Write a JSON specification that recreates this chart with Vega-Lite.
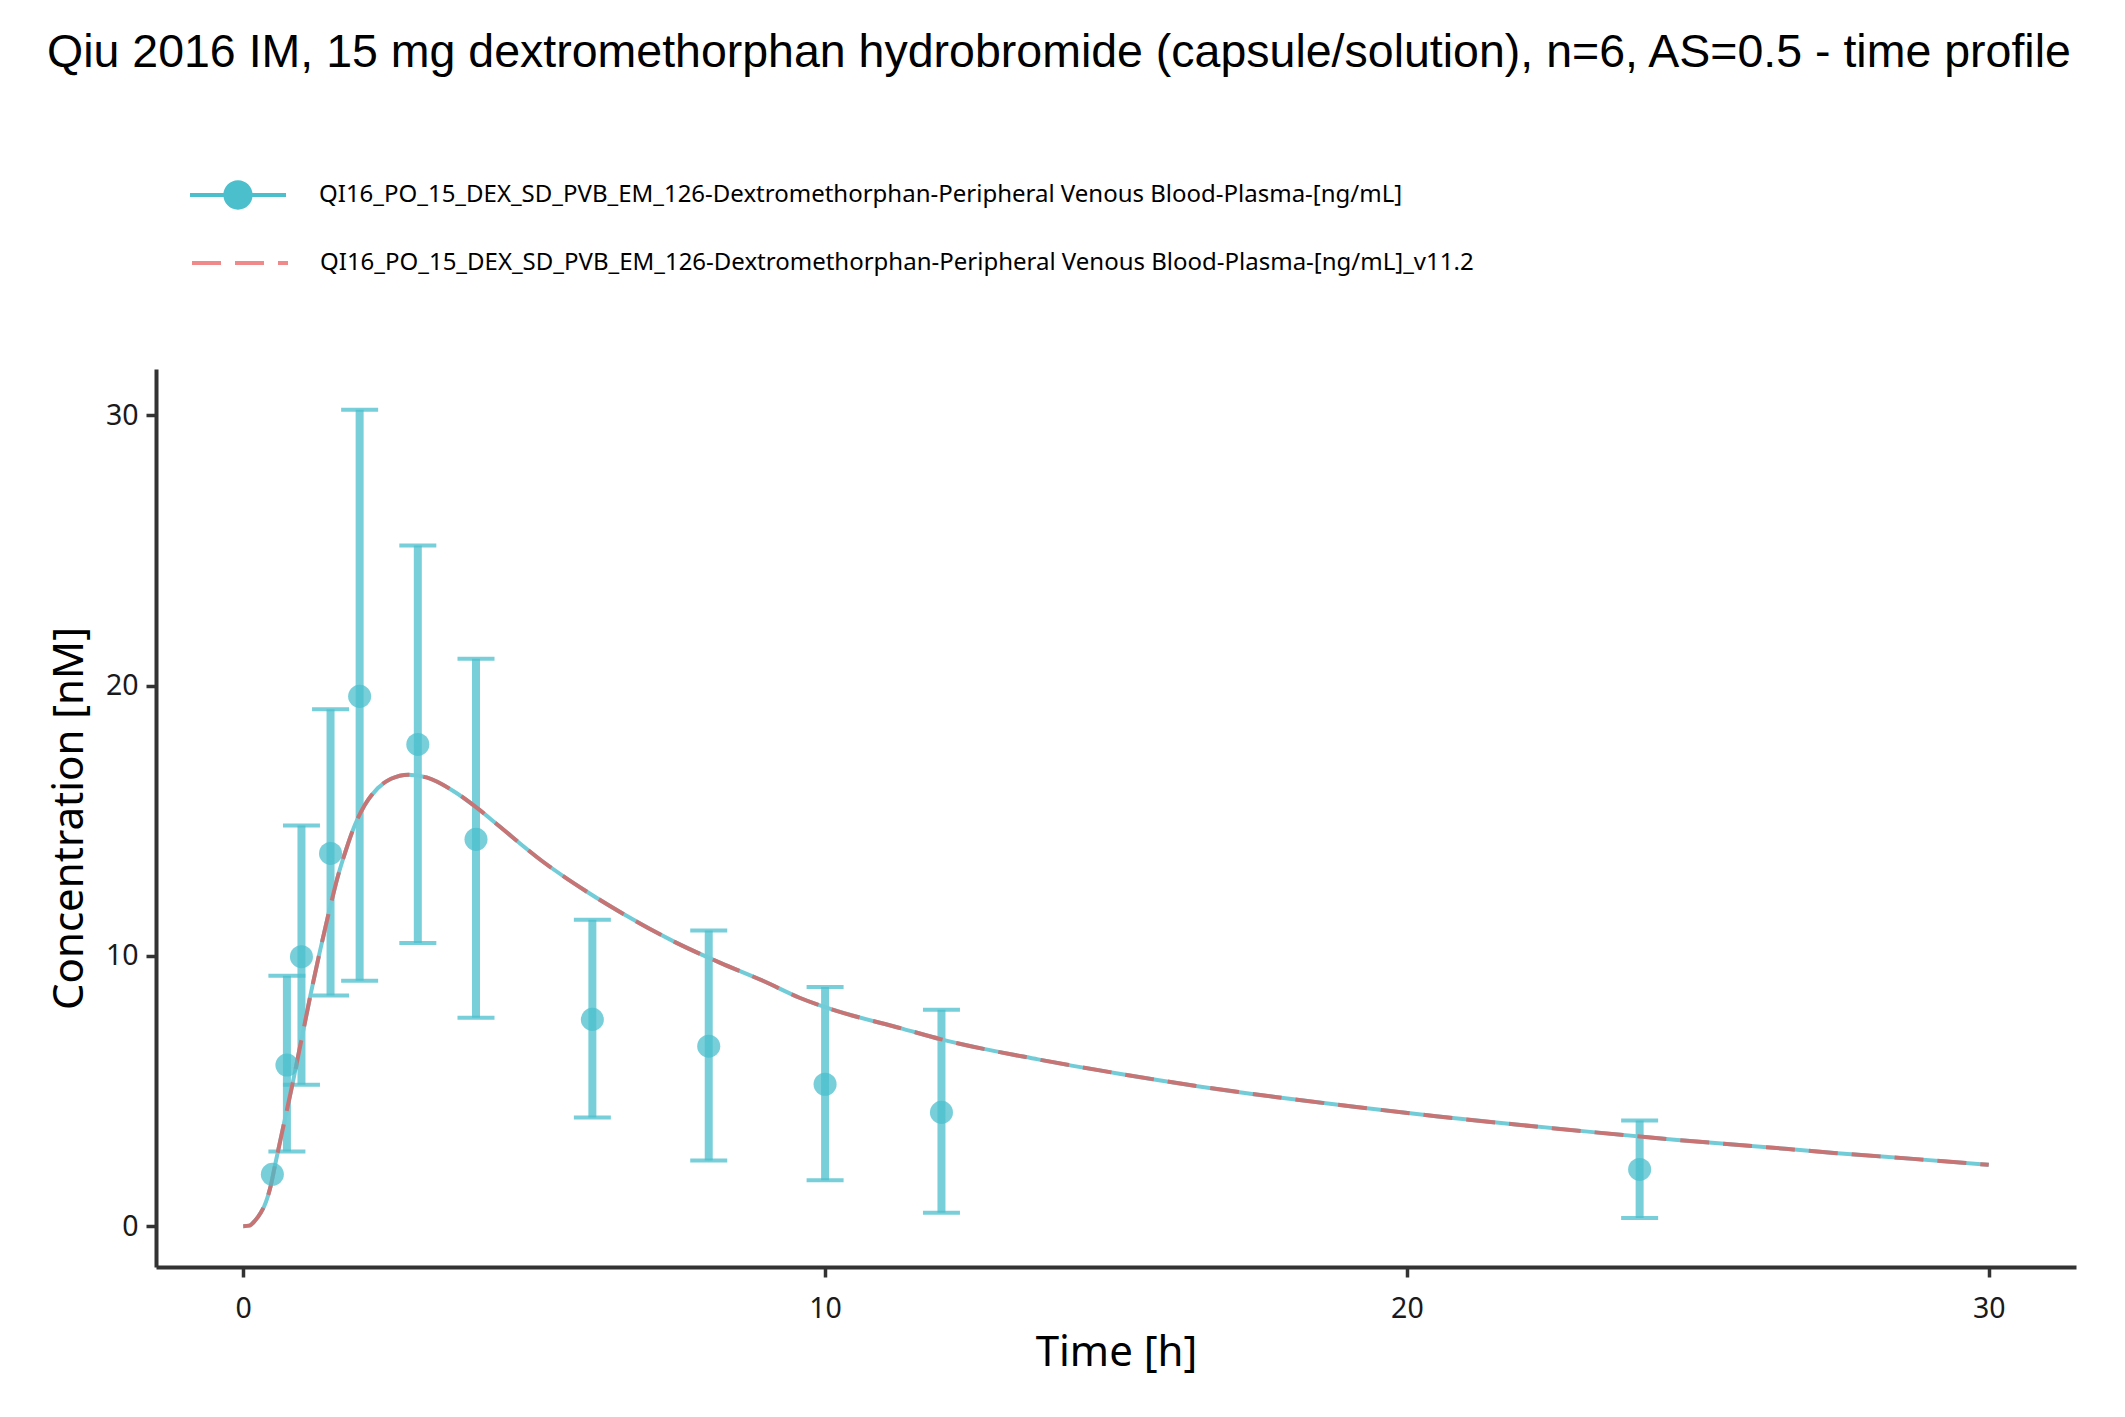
{
  "$schema": "https://vega.github.io/schema/vega-lite/v6.json",
  "autosize": "none",
  "width": 1920,
  "height": 898,
  "padding": {"left": 156, "top": 369, "right": 49, "bottom": 150},
  "background": "white",
  "title": {
    "text": "Qiu 2016 IM, 15 mg dextromethorphan hydrobromide (capsule/solution), n=6, AS=0.5 - time profile",
    "font": "Liberation Sans",
    "fontSize": 46.5,
    "fontWeight": "normal",
    "color": "black",
    "anchor": "start",
    "frame": "group",
    "dx": -109,
    "offset": 95
  },
  "datasets": {
    "obs": [
      {"t": 0.5, "conc": 1.92, "lo": null, "hi": null},
      {"t": 0.75, "conc": 5.96, "lo": 2.76, "hi": 9.26},
      {"t": 1, "conc": 9.97, "lo": 5.23, "hi": 14.82},
      {"t": 1.5, "conc": 13.79, "lo": 8.53, "hi": 19.12},
      {"t": 2, "conc": 19.6, "lo": 9.08, "hi": 30.2},
      {"t": 3, "conc": 17.82, "lo": 10.48, "hi": 25.18},
      {"t": 4, "conc": 14.31, "lo": 7.71, "hi": 20.99},
      {"t": 6, "conc": 7.65, "lo": 4.02, "hi": 11.34},
      {"t": 8, "conc": 6.66, "lo": 2.43, "hi": 10.94},
      {"t": 10, "conc": 5.25, "lo": 1.7, "hi": 8.85},
      {"t": 12, "conc": 4.21, "lo": 0.5, "hi": 8.01},
      {"t": 24, "conc": 2.1, "lo": 0.3, "hi": 3.91}
    ],
    "sim": [
      {"t": 0, "c": 0},
      {"t": 0.1, "c": 0.02},
      {"t": 0.2, "c": 0.2},
      {"t": 0.3, "c": 0.5},
      {"t": 0.36, "c": 0.74},
      {"t": 0.47, "c": 1.48},
      {"t": 0.55, "c": 2.3},
      {"t": 0.7, "c": 3.8},
      {"t": 0.85, "c": 5.3},
      {"t": 1.0, "c": 6.9},
      {"t": 1.16, "c": 8.6},
      {"t": 1.31, "c": 10.1},
      {"t": 1.46, "c": 11.5},
      {"t": 1.62, "c": 12.9},
      {"t": 1.77, "c": 13.95},
      {"t": 1.92, "c": 14.85},
      {"t": 2.08, "c": 15.55},
      {"t": 2.31, "c": 16.2},
      {"t": 2.54, "c": 16.55},
      {"t": 2.84, "c": 16.7},
      {"t": 3.15, "c": 16.6},
      {"t": 3.61, "c": 16.1},
      {"t": 4.0, "c": 15.5},
      {"t": 4.37, "c": 14.85},
      {"t": 5.14, "c": 13.5},
      {"t": 5.9, "c": 12.38},
      {"t": 6.67, "c": 11.38},
      {"t": 7.43, "c": 10.5},
      {"t": 8.19, "c": 9.75},
      {"t": 8.96, "c": 9.05},
      {"t": 9.56, "c": 8.45},
      {"t": 10, "c": 8.1},
      {"t": 11.34, "c": 7.3},
      {"t": 12, "c": 6.91},
      {"t": 13.66, "c": 6.17},
      {"t": 15.03, "c": 5.65},
      {"t": 16.4, "c": 5.18},
      {"t": 17.77, "c": 4.77},
      {"t": 19.13, "c": 4.41},
      {"t": 20.5, "c": 4.07},
      {"t": 21.87, "c": 3.76},
      {"t": 23.24, "c": 3.47},
      {"t": 24.6, "c": 3.2},
      {"t": 25.97, "c": 2.96},
      {"t": 27.34, "c": 2.71},
      {"t": 28.7, "c": 2.49},
      {"t": 30, "c": 2.27}
    ]
  },
  "encoding": {
    "x": {
      "field": "t",
      "type": "quantitative",
      "title": "Time [h]",
      "scale": {"domain": [-1.5, 31.5], "nice": false, "zero": false},
      "axis": {"values": [0, 10, 20, 30], "labelPadding": 17, "titlePadding": 10}
    }
  },
  "layer": [
    {
      "data": {"name": "obs"},
      "mark": {"type": "rule", "color": "#4BBFCC", "opacity": 0.75, "strokeWidth": 8},
      "encoding": {
        "y": {"field": "lo", "type": "quantitative"},
        "y2": {"field": "hi"}
      }
    },
    {
      "data": {"name": "obs"},
      "mark": {"type": "tick", "orient": "horizontal", "color": "#4BBFCC", "opacity": 0.75, "size": 37, "thickness": 4},
      "encoding": {"y": {"field": "hi", "type": "quantitative"}}
    },
    {
      "data": {"name": "obs"},
      "mark": {"type": "tick", "orient": "horizontal", "color": "#4BBFCC", "opacity": 0.75, "size": 37, "thickness": 4},
      "encoding": {"y": {"field": "lo", "type": "quantitative"}}
    },
    {
      "data": {"name": "sim"},
      "mark": {"type": "line", "color": "#72CCD7", "strokeWidth": 4, "interpolate": "monotone"},
      "encoding": {"y": {"field": "c", "type": "quantitative"}}
    },
    {
      "data": {"name": "sim"},
      "mark": {"type": "line", "color": "#C87474", "strokeWidth": 4, "interpolate": "monotone"},
      "encoding": {
        "y": {"field": "c", "type": "quantitative"},
        "strokeDash": {
          "datum": "QI16_PO_15_DEX_SD_PVB_EM_126-Dextromethorphan-Peripheral Venous Blood-Plasma-[ng/mL]_v11.2",
          "scale": {"range": [[29, 14]]},
          "legend": {
            "title": null,
            "orient": "none",
            "legendX": 34,
            "legendY": -156,
            "padding": 0,
            "symbolType": "stroke",
            "symbolSize": 9216,
            "symbolStrokeWidth": 4,
            "symbolStrokeColor": "#F08A8A",
            "symbolOpacity": 1,
            "labelOffset": 30,
            "labelLimit": 0,
            "labelFont": "Noto Sans",
            "labelFontSize": 24,
            "labelColor": "black"
          }
        }
      }
    },
    {
      "data": {"name": "obs"},
      "mark": {"type": "point", "filled": true, "shape": "circle", "opacity": 0.75, "size": 531},
      "encoding": {
        "y": {
          "field": "conc",
          "type": "quantitative",
          "title": "Concentration [nM]",
          "scale": {"domain": [-1.51, 31.71], "nice": false, "zero": false},
          "axis": {"values": [0, 10, 20, 30], "labelPadding": 8, "titlePadding": 14}
        },
        "color": {
          "datum": "QI16_PO_15_DEX_SD_PVB_EM_126-Dextromethorphan-Peripheral Venous Blood-Plasma-[ng/mL]",
          "scale": {"range": ["#4BBFCC"]},
          "legend": {
            "title": null,
            "orient": "none",
            "legendX": 58,
            "legendY": -198,
            "padding": 0,
            "symbolType": "M-2,-0.083H2V0.083H-2Z M-0.61,0A0.61,0.61 0 1,1 0.61,0A0.61,0.61 0 1,1 -0.61,0Z",
            "symbolSize": 2304,
            "symbolOpacity": 1,
            "symbolStrokeWidth": 0,
            "labelOffset": 57,
            "labelLimit": 0,
            "labelFont": "Noto Sans",
            "labelFontSize": 24,
            "labelColor": "black"
          }
        }
      }
    }
  ],
  "config": {
    "view": {"stroke": null},
    "axis": {
      "grid": false,
      "domainColor": "#333333",
      "domainWidth": 4,
      "tickColor": "#333333",
      "tickWidth": 3.5,
      "tickSize": 10,
      "labelFont": "Noto Sans",
      "labelFontSize": 28.5,
      "labelColor": "#1a1a1a",
      "titleFont": "Noto Sans",
      "titleFontSize": 42,
      "titleFontWeight": "normal",
      "titleColor": "black"
    }
  }
}
